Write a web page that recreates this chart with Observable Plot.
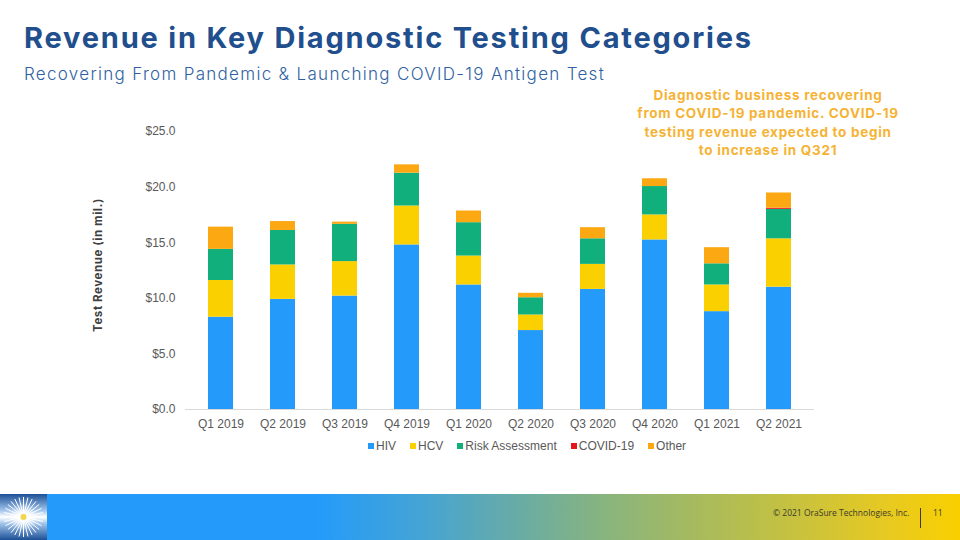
<!DOCTYPE html>
<html>
<head>
<meta charset="utf-8">
<script src="https://cdn.jsdelivr.net/npm/d3@7"></script>
<script src="https://cdn.jsdelivr.net/npm/@observablehq/plot@0.6"></script>
<style>
  html, body { margin: 0; padding: 0; background: #fff; }
  #page { position: relative; width: 960px; height: 540px; overflow: hidden; background: #fff; font-family: Inter, "Open Sans", sans-serif; }
  #title { position: absolute; left: 24px; top: 20px; font-size: 29px; font-weight: 700; color: #214E8D; white-space: nowrap; letter-spacing: 1.8px; }
  #subtitle { position: absolute; left: 24px; top: 64px; font-size: 17px; font-weight: 300; color: #2F62A2; white-space: nowrap; letter-spacing: 1.3px; }
  #note { position: absolute; left: 618px; width: 300px; top: 86px; text-align: center; font-size: 13.5px; font-weight: 700; color: #F5B335; line-height: 18.4px; letter-spacing: 0.7px; }
  #chart { position: absolute; left: 0; top: 100px; }
  #ylabel { position: absolute; left: 98px; top: 265px; transform: translate(-50%, -50%) rotate(-90deg); font-size: 11.5px; font-weight: 700; color: #404040; white-space: nowrap; letter-spacing: 0.6px; }
  #legend { position: absolute; left: 368px; top: 439px; display: flex; align-items: center; font-family: "Liberation Sans", Arial, sans-serif; font-size: 12px; color: #595959; }
  #legend .item { display: flex; align-items: center; margin-right: 14px; }
  #legend .sw { width: 6px; height: 6px; margin-right: 2px; }
  #footer { position: absolute; left: 0; top: 494px; width: 960px; height: 46px;
    background: linear-gradient(to right, #249BFB 0%, #249BFB 33%, #45A4D4 44%, #62AAAE 52%, #88B47E 63%, #A8BB5C 73%, #C8C23E 83%, #E6C923 92%, #F9D000 100%); }
  #logo { position: absolute; left: 0; top: 0; width: 47px; height: 46px; }
  #copy { position: absolute; left: 773px; top: 13px; font-size: 8.5px; color: #3b3b2a; white-space: nowrap; font-family: "Open Sans", sans-serif; }
  #vbar { position: absolute; left: 920px; top: 14px; width: 1px; height: 20px; background: #3b3b2a; }
  #pnum { position: absolute; left: 933px; top: 13px; font-size: 8.5px; color: #3b3b2a; font-family: "Open Sans", sans-serif; }
</style>
</head>
<body>
<div id="page">
  <div id="title">Revenue in Key Diagnostic Testing Categories</div>
  <div id="subtitle">Recovering From Pandemic &amp; Launching COVID-19 Antigen Test</div>
  <div id="note">Diagnostic business recovering<br>from COVID-19 pandemic. COVID-19<br>testing revenue expected to begin<br>to increase in Q321</div>
  <div id="chart"></div>
  <div id="ylabel">Test Revenue (in mil.)</div>
  <div id="legend"></div>
  <div id="footer">
    <svg id="logo" viewBox="0 0 47 46"></svg>
    <div id="copy">© 2021 OraSure Technologies, Inc.</div>
    <div id="vbar"></div>
    <div id="pnum">11</div>
  </div>
</div>
<script>
const quarters = ["Q1 2019", "Q2 2019", "Q3 2019", "Q4 2019", "Q1 2020", "Q2 2020", "Q3 2020", "Q4 2020", "Q1 2021", "Q2 2021"];
const categories = ["HIV", "HCV", "Risk Assessment", "COVID-19", "Other"];
const colors = ["#249BFB", "#FBD000", "#11AF7B", "#E8141B", "#FBA812"];
const hiv   = [8.3, 9.9, 10.2, 14.8, 11.2, 7.1, 10.8, 15.25, 8.8, 11.0];
const hcv   = [3.3, 3.1, 3.1, 3.5, 2.6, 1.4, 2.25, 2.25, 2.4, 4.35];
const risk  = [2.8, 3.1, 3.35, 2.95, 3.0, 1.55, 2.3, 2.55, 1.9, 2.65];
const covid = [0, 0, 0, 0, 0, 0, 0, 0, 0, 0.1];
const other = [2.0, 0.8, 0.2, 0.75, 1.05, 0.4, 1.0, 0.7, 1.45, 1.37];
const yTicks = [0, 5, 10, 15, 20, 25];

const series = [hiv, hcv, risk, covid, other];
const rows = [];
categories.forEach((c, i) => {
  quarters.forEach((q, j) => rows.push({quarter: q, category: c, value: series[i][j]}));
});

const chart = Plot.plot({
  width: 960,
  height: 340,
  marginTop: 31,
  marginBottom: 31,
  marginLeft: 185,
  marginRight: 146,
  style: {fontFamily: "'Liberation Sans', Arial, sans-serif", fontSize: "12px", color: "#595959", background: "transparent"},
  x: {domain: quarters, paddingInner: 0.6, paddingOuter: 0.3, label: null},
  y: {domain: [0, 25], label: null},
  color: {domain: categories, range: colors},
  marks: [
    Plot.barY(rows, {x: "quarter", y: "value", fill: "category", z: "category"}),
    Plot.ruleY([0], {stroke: "#D9D9D9", strokeWidth: 1}),
    Plot.axisX({tickSize: 0, tickPadding: 10, label: null}),
    Plot.axisY(yTicks, {tickSize: 0, tickPadding: 10, label: null, tickFormat: d => "$" + d.toFixed(1)})
  ]
});
document.getElementById("chart").appendChild(chart);

// legend
const legend = document.getElementById("legend");
categories.forEach((c, i) => {
  const it = document.createElement("div");
  it.className = "item";
  const sw = document.createElement("span");
  sw.className = "sw";
  sw.style.background = colors[i];
  const tx = document.createElement("span");
  tx.textContent = c;
  it.appendChild(sw); it.appendChild(tx);
  legend.appendChild(it);
});

// decorative logo
const ns = "http://www.w3.org/2000/svg";
const logo = document.getElementById("logo");
logo.innerHTML = `<defs><linearGradient id="lg" x1="0" y1="0" x2="0" y2="1">
<stop offset="0" stop-color="#1B4F96"/><stop offset="0.35" stop-color="#9FC2EA"/><stop offset="0.5" stop-color="#FFFFFF"/>
<stop offset="0.65" stop-color="#9FC2EA"/><stop offset="1" stop-color="#1B4F96"/></linearGradient>
<radialGradient id="rg"><stop offset="0" stop-color="#fff" stop-opacity="1"/><stop offset="1" stop-color="#fff" stop-opacity="0"/></radialGradient></defs>
<rect width="47" height="46" fill="url(#lg)"/><circle cx="23.5" cy="23" r="14" fill="url(#rg)"/>`;
for (let k = 0; k < 28; k++) {
  const a = k / 28 * Math.PI * 2;
  const l = document.createElementNS(ns, "line");
  l.setAttribute("x1", 23.5 + Math.cos(a) * 4);
  l.setAttribute("y1", 23 + Math.sin(a) * 4);
  l.setAttribute("x2", 23.5 + Math.cos(a) * 20);
  l.setAttribute("y2", 23 + Math.sin(a) * 20);
  l.setAttribute("stroke", "#fff");
  l.setAttribute("stroke-width", "1");
  logo.appendChild(l);
}
const dot = document.createElementNS(ns, "circle");
dot.setAttribute("cx", 23.5); dot.setAttribute("cy", 23); dot.setAttribute("r", 3);
dot.setAttribute("fill", "#F2D64B");
logo.appendChild(dot);
</script>
</body>
</html>
